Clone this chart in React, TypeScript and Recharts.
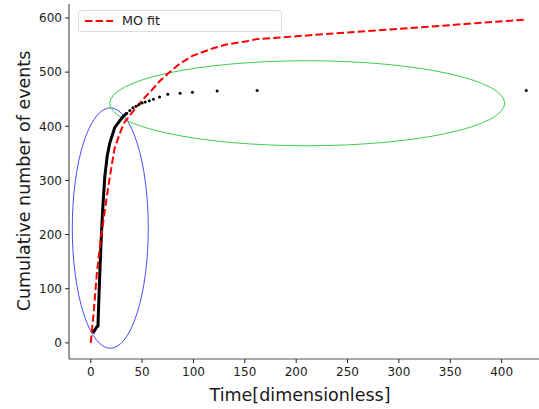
import React from 'react';
import {
  ComposedChart,
  Line,
  Scatter,
  XAxis,
  YAxis,
  ReferenceArea,
  Label,
} from 'recharts';

// event times / cumulative counts (black markers)
const denseEvents = [
  { t: 2, n: 18 }, { t: 6, n: 30 }, { t: 7, n: 31 }, { t: 7.5, n: 60 },
  { t: 8.8, n: 129 }, { t: 10, n: 185 }, { t: 11.4, n: 240 }, { t: 13.6, n: 306 },
  { t: 16, n: 345 }, { t: 18.5, n: 369 }, { t: 23.4, n: 398 }, { t: 31, n: 417 },
  { t: 35, n: 424 },
];

const sparseEvents = [
  { t: 35, n: 424 }, { t: 38, n: 429 }, { t: 41, n: 434 }, { t: 44, n: 437 },
  { t: 47, n: 440 }, { t: 50, n: 443 }, { t: 53, n: 445 }, { t: 57, n: 447 },
  { t: 61, n: 450 }, { t: 67, n: 454 }, { t: 75, n: 459 }, { t: 87, n: 461 },
  { t: 99, n: 463 }, { t: 123, n: 465 }, { t: 162, n: 466 }, { t: 424, n: 466 },
];

// Musa-Okumoto fit
const moFit = [
  { t: 0, n: 0 }, { t: 3, n: 60 }, { t: 6, n: 130 }, { t: 10, n: 195 },
  { t: 17, n: 288 }, { t: 23, n: 358 }, { t: 28, n: 385 }, { t: 32, n: 405 },
  { t: 43, n: 432 }, { t: 50, n: 448 }, { t: 59, n: 466 }, { t: 67, n: 483 },
  { t: 75, n: 497 }, { t: 87, n: 516 }, { t: 99, n: 530 }, { t: 119, n: 544 },
  { t: 132, n: 551 }, { t: 152, n: 557 }, { t: 162, n: 561 }, { t: 424, n: 597 },
];

// ellipse bounding boxes [x1, x2, y1, y2]
const blueRegion = [-18, 56, -10, 434];
const greenRegion = [18.5, 403, 364, 521];

const xTicks = [0, 50, 100, 150, 200, 250, 300, 350, 400];
const yTicks = [0, 100, 200, 300, 400, 500, 600];

const FONT = '"DejaVu Sans", sans-serif';
const SPINE = '#555';

const ellipseShape = (color: string) => (props: any) => {
  const { x, y, width, height } = props;
  return (
    <ellipse
      cx={x + width / 2}
      cy={y + height / 2}
      rx={Math.abs(width) / 2}
      ry={Math.abs(height) / 2}
      fill="none"
      stroke={color}
      strokeWidth={1}
    />
  );
};

const App: React.FC = () => {
  return (
    <div
      style={{
        position: 'absolute',
        left: 0,
        top: 0,
        width: 539,
        height: 409,
        overflow: 'hidden',
        background: '#fff',
      }}
    >
      <ComposedChart
        width={560}
        height={409}
        margin={{ top: 4, right: 12, bottom: 0, left: 0 }}
      >
        <XAxis
          type="number"
          dataKey="t"
          domain={[-21.2, 445.2]}
          ticks={xTicks}
          allowDataOverflow
          height={50}
          tickSize={4}
          tickMargin={4}
          axisLine={{ stroke: SPINE, strokeWidth: 1.2 }}
          tickLine={{ stroke: '#222' }}
          tick={{ fontSize: 12, fontFamily: FONT, fill: '#1a1a1a' }}
        >
          <Label
            content={() => (
              <text
                x={300}
                y={395}
                textAnchor="middle"
                dominantBaseline="central"
                fontSize={17.5}
                fontFamily={FONT}
                fill="#1a1a1a"
              >
                Time[dimensionless]
              </text>
            )}
          />
        </XAxis>
        <XAxis
          xAxisId="top"
          orientation="top"
          type="number"
          domain={[-21.2, 445.2]}
          height={0}
          tick={false}
          tickLine={false}
          axisLine={{ stroke: SPINE, strokeWidth: 1.2 }}
        />
        <YAxis
          type="number"
          domain={[-29.8, 625.8]}
          ticks={yTicks}
          allowDataOverflow
          width={69}
          tickSize={4}
          tickMargin={3}
          axisLine={{ stroke: SPINE, strokeWidth: 1.2 }}
          tickLine={{ stroke: '#222' }}
          tick={{ fontSize: 12, fontFamily: FONT, fill: '#1a1a1a' }}
        >
          <Label
            content={() => (
              <text
                x={24}
                y={181}
                transform="rotate(-90 24 181)"
                textAnchor="middle"
                dominantBaseline="central"
                fontSize={17.5}
                fontFamily={FONT}
                fill="#1a1a1a"
              >
                Cumulative number of events
              </text>
            )}
          />
        </YAxis>

        <Line
          data={denseEvents}
          dataKey="n"
          type="linear"
          stroke="#000"
          strokeWidth={3}
          dot={false}
          isAnimationActive={false}
        />
        <Scatter
          data={sparseEvents}
          dataKey="n"
          fill="#000"
          shape={(p: any) => <circle cx={p.cx} cy={p.cy} r={1.5} fill="#000" />}
          isAnimationActive={false}
        />
        <Line
          data={moFit}
          dataKey="n"
          type="linear"
          stroke="red"
          strokeWidth={2}
          strokeDasharray="7.4 3.2"
          dot={false}
          isAnimationActive={false}
        />
        <ReferenceArea
          x1={blueRegion[0]}
          x2={blueRegion[1]}
          y1={blueRegion[2]}
          y2={blueRegion[3]}
          ifOverflow="visible"
          shape={ellipseShape('#4a4aff')}
        />
        <ReferenceArea
          x1={greenRegion[0]}
          x2={greenRegion[1]}
          y1={greenRegion[2]}
          y2={greenRegion[3]}
          ifOverflow="visible"
          shape={ellipseShape('#3ccf4e')}
        />
      </ComposedChart>

      <div
        style={{
          position: 'absolute',
          left: 78,
          top: 10,
          width: 204,
          height: 22,
          border: '1px solid #dcdcdc',
          borderRadius: 3,
          background: 'rgba(255,255,255,0.85)',
          boxSizing: 'border-box',
        }}
      >
        <svg width={40} height={20} style={{ position: 'absolute', left: 4, top: 0 }}>
          <line x1={2} y1={10} x2={30} y2={10} stroke="red" strokeWidth={2} strokeDasharray="7.4 3.2" />
        </svg>
        <span
          style={{
            position: 'absolute',
            left: 43,
            top: 2,
            fontSize: 12.7,
            fontFamily: FONT,
            color: '#1a1a1a',
            lineHeight: '16px',
          }}
        >
          MO fit
        </span>
      </div>
    </div>
  );
};

export default App;
